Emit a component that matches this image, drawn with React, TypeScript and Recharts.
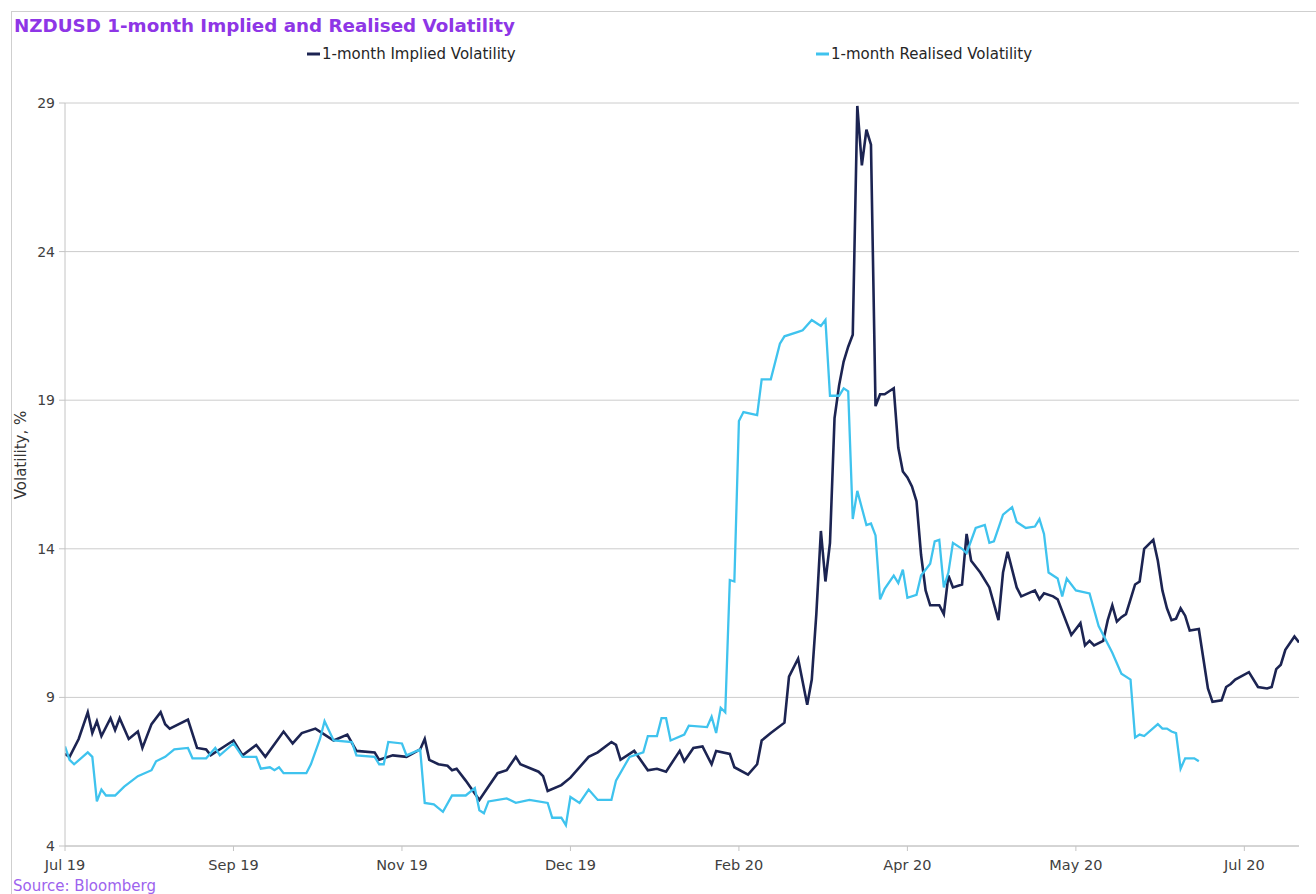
import { LineChart, Line, XAxis, YAxis, CartesianGrid } from "recharts"

// x = trading-day index from start of Jul 19
const dayTicks = [0, 37, 74, 111, 148, 185, 222, 259]
const tickLabels = ["Jul 19", "Sep 19", "Nov 19", "Dec 19", "Feb 20", "Apr 20", "May 20", "Jul 20"]
const volTicks = [4, 9, 14, 19, 24, 29]

const impliedDays = [
  0, 1, 3, 5, 6, 7, 8, 10, 11, 12, 14, 16, 17, 19, 21, 22, 23, 27, 29, 31, 32, 37, 39, 42, 44, 48, 50, 52, 55, 57,
  59, 62, 64, 68, 69, 72, 75, 78, 79, 80, 82, 84, 85, 86, 88, 91, 93, 95, 97, 99, 100, 104, 105, 106, 109, 111,
  115, 117, 120, 121, 122, 125, 128, 130, 132, 135, 136, 138, 140, 142, 143, 146, 147, 150, 152, 153, 155, 158,
  159, 161, 163, 164, 165, 166, 167, 168, 169, 170, 171, 172, 173, 174, 175, 176, 177, 178, 179, 180, 181, 182,
  183, 184, 185, 186, 187, 188, 189, 190, 192, 193, 194, 195, 197, 198, 199, 201, 203, 205, 206, 207, 209, 210,
  213, 214, 215, 217, 218, 220, 221, 223, 224, 225, 226, 228, 229, 230, 231, 232, 233, 234, 235, 236, 237, 239,
  240, 241, 242, 243, 244, 245, 246, 247, 249, 250, 251, 252, 254, 255, 256, 257, 260, 262, 264, 265, 266, 267,
  268, 270, 271,
]
const impliedVol = [
  7.1, 7.0, 7.6, 8.5, 7.8, 8.2, 7.7, 8.3, 7.9, 8.3, 7.6, 7.85, 7.3, 8.1, 8.5, 8.1, 7.95, 8.25, 7.3, 7.25, 7.05, 7.55,
  7.05, 7.4, 7.0, 7.85, 7.45, 7.8, 7.95, 7.75, 7.55, 7.75, 7.2, 7.15, 6.9, 7.05, 7.0, 7.25, 7.6, 6.9, 6.75, 6.7,
  6.55, 6.6, 6.2, 5.55, 6.0, 6.45, 6.55, 7.0, 6.75, 6.5, 6.35, 5.85, 6.05, 6.3, 7.0, 7.15, 7.5, 7.4, 6.9, 7.2,
  6.55, 6.6, 6.5, 7.2, 6.85, 7.3, 7.35, 6.75, 7.2, 7.1, 6.65, 6.4, 6.75, 7.55, 7.8, 8.15, 9.7, 10.3, 8.75, 9.6,
  11.8, 14.6, 12.9, 14.2, 18.4, 19.5, 20.3, 20.8, 21.2, 28.9, 26.9, 28.1, 27.6, 18.8, 19.2, 19.2, 19.3, 19.4, 17.4,
  16.6, 16.4, 16.1, 15.6, 13.8, 12.6, 12.1, 12.1, 11.8, 13.1, 12.7, 12.8, 14.5, 13.6, 13.2, 12.7, 11.6, 13.2, 13.9,
  12.7, 12.4, 12.6, 12.3, 12.5, 12.4, 12.3, 11.5, 11.1, 11.5, 10.75, 10.9, 10.75, 10.9, 11.6, 12.1, 11.55, 11.7,
  11.8, 12.3, 12.8, 12.9, 14.0, 14.3, 13.6, 12.6, 12.0, 11.6, 11.65, 12.0, 11.75, 11.25, 11.3, 10.3, 9.3, 8.85,
  8.9, 9.35, 9.45, 9.6, 9.85, 9.35, 9.3, 9.35, 9.95, 10.1, 10.6, 11.05, 10.85,
]

const realisedDays = [
  0, 1, 2, 5, 6, 7, 8, 9, 11, 13, 16, 19, 20, 22, 24, 27, 28, 31, 33, 34, 37, 39, 42, 43, 45, 46, 47, 48, 53, 54,
  56, 57, 59, 63, 64, 68, 69, 70, 71, 74, 75, 78, 79, 81, 83, 85, 88, 90, 91, 92, 93, 97, 99, 102, 106, 107, 109,
  110, 111, 113, 115, 117, 120, 121, 124, 127, 128, 130, 131, 132, 133, 136, 137, 141, 142, 143, 144, 145, 146,
  147, 148, 149, 152, 153, 155, 157, 158, 161, 162, 164, 165, 166, 167, 168, 170, 171, 172, 173, 174, 176, 177,
  178, 179, 180, 182, 183, 184, 185, 187, 188, 190, 191, 192, 193, 194, 195, 197, 198, 200, 202, 203, 204, 206,
  208, 209, 211, 213, 214, 215, 216, 218, 219, 220, 222, 225, 227, 230, 232, 234, 235, 236, 237, 240, 241, 242,
  243, 244, 245, 246, 248, 249,
]
const realisedVol = [
  7.35, 6.9, 6.75, 7.15, 7.0, 5.5, 5.9, 5.7, 5.7, 6.0, 6.35, 6.55, 6.85, 7.0, 7.25, 7.3, 6.95, 6.95, 7.3, 7.05, 7.45,
  7.0, 7.0, 6.6, 6.65, 6.55, 6.65, 6.45, 6.45, 6.75, 7.6, 8.2, 7.55, 7.5, 7.05, 7.0, 6.75, 6.75, 7.5, 7.45, 7.05,
  7.25, 5.45, 5.4, 5.15, 5.7, 5.7, 5.95, 5.2, 5.1, 5.5, 5.6, 5.45, 5.55, 5.45, 4.95, 4.95, 4.7, 5.65, 5.45, 5.9,
  5.55, 5.55, 6.2, 7.0, 7.15, 7.7, 7.7, 8.3, 8.3, 7.55, 7.75, 8.05, 8.0, 8.35, 7.8, 8.65, 8.5, 12.95, 12.9, 18.3,
  18.6, 18.5, 19.7, 19.7, 20.9, 21.15, 21.3, 21.35, 21.7, 21.6, 21.5, 21.7, 19.15, 19.15, 19.4, 19.3, 15.0, 15.95,
  14.8, 14.85, 14.45, 12.3, 12.65, 13.1, 12.85, 13.3, 12.35, 12.45, 13.1, 13.5, 14.25, 14.3, 12.7, 13.2, 14.2,
  14.0, 13.85, 14.7, 14.8, 14.2, 14.25, 15.15, 15.4, 14.9, 14.7, 14.75, 15.0, 14.5, 13.2, 13.0, 12.4, 13.0, 12.6,
  12.5, 11.4, 10.5, 9.8, 9.6, 7.65, 7.75, 7.7, 8.1, 7.95, 7.95, 7.85, 7.8, 6.6, 6.95, 6.95, 6.85,
]

const impliedData = impliedDays.map((d, i) => ({ day: d, vol: impliedVol[i] }))
const realisedData = realisedDays.map((d, i) => ({ day: d, vol: realisedVol[i] }))

const IMPLIED = "#1c2452"
const REALISED = "#3fc3ee"
const FONT = "'DejaVu Sans', sans-serif"

export default function App() {
  return (
    <div style={{ position: "absolute", left: 0, top: 0, width: 1316, height: 894, background: "#fff", fontFamily: FONT, overflow: "hidden" }}>
      <div style={{ position: "absolute", left: 11, top: 11, width: 1320, height: 900, border: "1px solid #cfcfcf" }} />
      <LineChart
        width={1316}
        height={894}
        margin={{ top: 103, right: 17, bottom: 18, left: 0 }}
        style={{ position: "absolute", left: 0, top: 0 }}
      >
        <CartesianGrid vertical={false} stroke="#cccccc" />
        <XAxis
          type="number"
          dataKey="day"
          domain={[0, 271]}
          ticks={dayTicks}
          tickFormatter={(v: number) => tickLabels[dayTicks.indexOf(v)]}
          height={30}
          tickSize={5}
          tickMargin={9}
          stroke="#c4c4c4"
          tick={{ fill: "#404040", fontSize: 14.5 }}
          allowDataOverflow
        />
        <YAxis
          type="number"
          domain={[4, 29]}
          ticks={volTicks}
          width={65}
          tickSize={6}
          tickMargin={4}
          stroke="#c4c4c4"
          tick={{ fill: "#404040", fontSize: 14 }}
          allowDataOverflow
        />
        <Line data={impliedData} dataKey="vol" type="linear" stroke={IMPLIED} strokeWidth={2.6} dot={false} isAnimationActive={false} />
        <Line data={realisedData} dataKey="vol" type="linear" stroke={REALISED} strokeWidth={2.3} dot={false} isAnimationActive={false} />
      </LineChart>
      <svg width={1316} height={894} style={{ position: "absolute", left: 0, top: 0, pointerEvents: "none" }}>
        <text x={14} y={31.5} fontSize={18.3} fontWeight="bold" fill="#8e36e6">
          NZDUSD 1-month Implied and Realised Volatility
        </text>
        <line x1={307} x2={320} y1={54} y2={54} stroke={IMPLIED} strokeWidth={3} />
        <text x={322} y={59} fontSize={15} fill="#262626">1-month Implied Volatility</text>
        <line x1={816} x2={829} y1={54} y2={54} stroke={REALISED} strokeWidth={3} />
        <text x={831} y={59} fontSize={15} fill="#262626">1-month Realised Volatility</text>
        <text x={26} y={455} fontSize={15} fill="#333" textAnchor="middle" transform="rotate(-90 26 455)">
          Volatility, %
        </text>
        <text x={13} y={891} fontSize={15} fill="#9d63ee">Source: Bloomberg</text>
      </svg>
    </div>
  )
}
